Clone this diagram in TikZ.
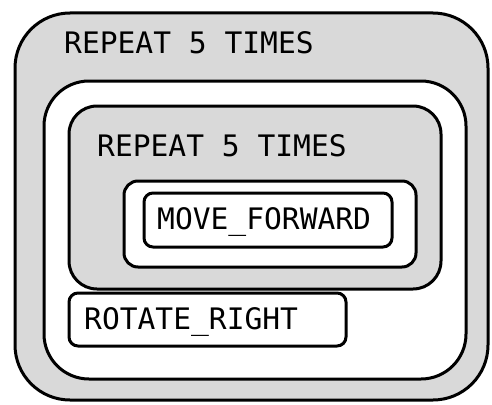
\documentclass[tikz,border=0pt]{standalone}
\usepackage{fontspec}
\newfontfamily\monofam{DejaVu Sans Mono}
\definecolor{boxgray}{HTML}{D9D9D9}
\begin{document}
\begin{tikzpicture}[x=1pt,y=-1pt,
  blk/.style={draw=black, line width=3pt, rectangle, anchor=north west, inner sep=0pt, outer sep=0pt},
  lbl/.style={anchor=base west, inner sep=0pt, font=\monofam\fontsize{29.6}{32}\selectfont}]
\useasboundingbox (0,0) rectangle (492,404);
\node[blk, fill=boxgray, rounded corners=55pt, minimum width=473pt, minimum height=387pt] (outer) at (15,13) {};
\node[blk, fill=white, rounded corners=45pt, minimum width=422pt, minimum height=298pt] (body) at (44,81) {};
\node[blk, fill=boxgray, rounded corners=28pt, minimum width=372pt, minimum height=183pt] (inner) at (69,106) {};
\node[blk, fill=white, rounded corners=14pt, minimum width=292pt, minimum height=86pt] (innerbody) at (124,181) {};
\node[blk, fill=white, rounded corners=9pt, minimum width=248pt, minimum height=54pt] (move) at (144,193) {};
\node[blk, fill=white, rounded corners=9pt, minimum width=277pt, minimum height=53pt] (rotate) at (69,293) {};
\node[lbl] (t1) at (64,54) {REPEAT 5 TIMES};
\node[lbl] (t2) at (97,156) {REPEAT 5 TIMES};
\node[lbl] (t3) at (157,229) {MOVE\_FORWARD};
\node[lbl] (t4) at (84,329) {ROTATE\_RIGHT};
\end{tikzpicture}
\end{document}
